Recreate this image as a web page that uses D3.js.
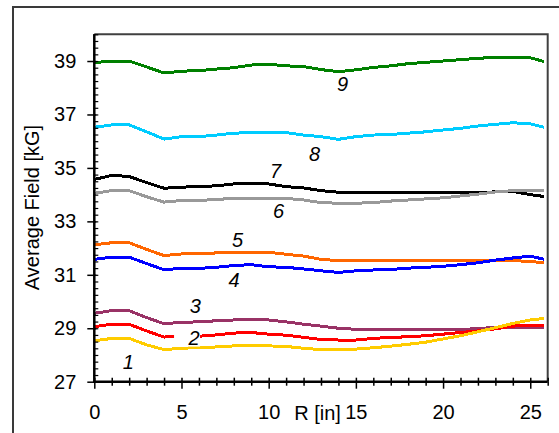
<!DOCTYPE html>
<html>
<head>
<meta charset="utf-8">
<script src="https://cdn.jsdelivr.net/npm/d3@7"></script>
<style>
  html, body { margin: 0; padding: 0; background: #fff; }
  svg { display: block; }
  text { font-family: "Liberation Sans", Arial, sans-serif; fill: #000; }
</style>
</head>
<body>
<svg id="chart" width="559" height="433"></svg>
<script>
// Radius sample points [in]
const R = [0, 1, 2, 3, 4, 5, 6, 7, 8, 9, 10, 11, 12, 13, 14, 15, 16, 17, 18, 19, 20, 21, 22, 23, 24, 25, 25.8];

// Average field [kG] for each excitation level, one array per curve
const field1 = [28.53, 28.62, 28.62, 28.38, 28.20, 28.25, 28.28, 28.30, 28.34, 28.34, 28.34, 28.32, 28.25, 28.20, 28.19, 28.22, 28.27, 28.33, 28.40, 28.48, 28.60, 28.72, 28.87, 29.02, 29.18, 29.31, 29.37];
const field2 = [29.06, 29.15, 29.15, 28.90, 28.67, 28.71, 28.70, 28.75, 28.82, 28.84, 28.78, 28.74, 28.66, 28.58, 28.56, 28.56, 28.62, 28.66, 28.68, 28.72, 28.78, 28.84, 28.90, 28.98, 29.08, 29.12, 29.12];
const field3 = [29.56, 29.66, 29.66, 29.40, 29.17, 29.22, 29.24, 29.28, 29.31, 29.31, 29.31, 29.24, 29.15, 29.08, 29.00, 28.96, 28.94, 28.94, 28.94, 28.94, 28.94, 28.94, 29.00, 29.02, 29.02, 29.02, 29.02];
const field4 = [31.58, 31.66, 31.66, 31.42, 31.19, 31.24, 31.24, 31.28, 31.35, 31.38, 31.30, 31.28, 31.22, 31.15, 31.09, 31.15, 31.18, 31.20, 31.25, 31.28, 31.32, 31.38, 31.45, 31.55, 31.63, 31.70, 31.58];
const field5 = [32.12, 32.20, 32.20, 31.95, 31.72, 31.78, 31.78, 31.82, 31.84, 31.84, 31.84, 31.77, 31.70, 31.58, 31.53, 31.53, 31.53, 31.53, 31.53, 31.53, 31.53, 31.53, 31.53, 31.53, 31.53, 31.50, 31.45];
const field6 = [34.05, 34.15, 34.15, 33.92, 33.72, 33.78, 33.78, 33.82, 33.86, 33.86, 33.86, 33.86, 33.80, 33.70, 33.68, 33.68, 33.70, 33.76, 33.80, 33.84, 33.88, 33.95, 34.02, 34.10, 34.15, 34.15, 34.15];
const field7 = [34.57, 34.72, 34.68, 34.45, 34.24, 34.28, 34.30, 34.33, 34.40, 34.40, 34.40, 34.30, 34.25, 34.15, 34.09, 34.09, 34.09, 34.09, 34.09, 34.09, 34.09, 34.09, 34.09, 34.10, 34.12, 34.00, 33.93];
const field8 = [36.52, 36.61, 36.61, 36.35, 36.08, 36.17, 36.17, 36.23, 36.30, 36.32, 36.32, 36.32, 36.23, 36.17, 36.07, 36.17, 36.23, 36.25, 36.30, 36.35, 36.42, 36.48, 36.57, 36.63, 36.69, 36.65, 36.52];
const field9 = [38.94, 39.00, 39.00, 38.78, 38.55, 38.62, 38.64, 38.70, 38.75, 38.85, 38.88, 38.82, 38.79, 38.68, 38.60, 38.67, 38.76, 38.82, 38.90, 38.95, 39.00, 39.05, 39.10, 39.14, 39.14, 39.12, 38.98];

const curveNames = ["1", "2", "3", "4", "5", "6", "7", "8", "9"];
const curveColors = ["#FFCC00", "#FF0000", "#993366", "#0000FF", "#FF6600", "#999999", "#000000", "#00CCFF", "#008000"];
const curveValues = [field1, field2, field3, field4, field5, field6, field7, field8, field9];

// Curve number annotations, placed in data coordinates (R, field)
const labelR = [1.95, 5.72, 5.79, 8.01, 8.22, 10.57, 10.40, 12.63, 14.24];
const labelField = [27.75, 28.65, 29.85, 30.81, 32.32, 33.39, 34.89, 35.54, 38.16];
const labelMasked = [false, true, false, false, false, false, false, false, false];

// Axis ticks
const yMajor = [27, 29, 31, 33, 35, 37, 39];
const xMajor = [0, 5, 10, 15, 20, 25];

const svg = d3.select("#chart");

// outer frame (continues past the right and bottom edges)
svg.append("rect")
  .attr("x", 13).attr("y", 7).attr("width", 600).attr("height", 500)
  .attr("fill", "none").attr("stroke", "#3a3a3a").attr("stroke-width", 2);

const plotLeft = 94.3, plotRight = 547.7, plotTop = 34.3, plotBottom = 381.7;
const x = d3.scaleLinear().domain([0, 26]).range([plotLeft, plotRight]);
const y = d3.scaleLinear().domain([27, 40]).range([plotBottom, plotTop]);

// plot frame top and right
svg.append("path")
  .attr("d", `M${plotLeft},${plotTop}H${plotRight}V${plotBottom}`)
  .attr("fill", "none").attr("stroke", "#404040").attr("stroke-width", 2);

// curves
const line = d3.line().x((d, i) => x(R[i])).y(d => y(d));
const order = [8, 7, 6, 5, 4, 3, 2, 1, 0];
order.forEach(k => {
  svg.append("path")
    .datum(curveValues[k])
    .attr("d", line)
    .attr("fill", "none")
    .attr("stroke", curveColors[k])
    .attr("stroke-width", 3)
    .attr("stroke-linejoin", "miter")
    .attr("shape-rendering", "crispEdges");
});

// y axis: minor ticks every 0.25 kG
const yMinor = d3.range(27, 40.001, 0.25);
svg.append("g")
  .attr("transform", `translate(${plotLeft - 1},0)`)
  .call(d3.axisRight(y).tickValues(yMinor).tickSize(5).tickFormat(""))
  .call(g => g.select(".domain").remove())
  .call(g => g.selectAll("line").attr("stroke", "#000").attr("stroke-width", 1.2));

const yAxis = svg.append("g")
  .attr("transform", `translate(${plotLeft + 2},0)`)
  .call(d3.axisLeft(y).tickValues(yMajor).tickSize(9).tickPadding(11).tickFormat(d3.format("d")))
  .call(g => g.select(".domain").remove());
yAxis.selectAll("line").attr("stroke", "#000").attr("stroke-width", 1.5);
yAxis.selectAll("text").attr("font-size", 20).attr("font-family", "Liberation Sans, Arial, sans-serif").attr("fill", "#000");

// x axis: ticks every inch crossing the axis, longer ticks at multiples of 5
const xAll = d3.range(0, 27, 1);
svg.append("g")
  .attr("transform", `translate(0,${plotBottom})`)
  .call(d3.axisTop(x).tickValues(xAll).tickSize(4).tickFormat(""))
  .call(g => g.select(".domain").remove())
  .call(g => g.selectAll("line").attr("stroke", "#000").attr("stroke-width", 1.5));
svg.append("g")
  .attr("transform", `translate(0,${plotBottom})`)
  .call(d3.axisBottom(x).tickValues(xAll.filter(v => v % 5 !== 0)).tickSize(4).tickFormat(""))
  .call(g => g.select(".domain").remove())
  .call(g => g.selectAll("line").attr("stroke", "#000").attr("stroke-width", 1.5));
const xAxis = svg.append("g")
  .attr("transform", `translate(0,${plotBottom})`)
  .call(d3.axisBottom(x).tickValues(xMajor).tickSize(7).tickPadding(16).tickFormat(d3.format("d")))
  .call(g => g.select(".domain").remove());
xAxis.selectAll("line").attr("stroke", "#000").attr("stroke-width", 1.5);
xAxis.selectAll("text").attr("font-size", 20).attr("font-family", "Liberation Sans, Arial, sans-serif").attr("fill", "#000");

// axis lines
svg.append("path")
  .attr("d", `M${plotLeft},${plotTop}V${plotBottom}H${plotRight}`)
  .attr("fill", "none").attr("stroke", "#000").attr("stroke-width", 2.5);

// axis titles
svg.append("text")
  .attr("x", 317.5).attr("y", 420)
  .attr("text-anchor", "middle")
  .attr("font-size", 20)
  .text("R [in]");

svg.append("text")
  .attr("transform", "translate(39,207.5) rotate(-90)")
  .attr("text-anchor", "middle")
  .attr("font-size", 20)
  .text("Average Field [kG]");

// curve number labels
curveNames.forEach((name, i) => {
  const cx = x(labelR[i]), cy = y(labelField[i]);
  if (labelMasked[i]) {
    svg.append("rect")
      .attr("x", cx - 20).attr("y", cy - 9).attr("width", 26).attr("height", 18)
      .attr("fill", "#fff");
  }
  svg.append("text")
    .attr("x", cx).attr("y", cy)
    .attr("dy", "0.36em")
    .attr("text-anchor", "middle")
    .attr("font-size", 20)
    .attr("font-style", "italic")
    .text(name);
});
</script>
</body>
</html>
